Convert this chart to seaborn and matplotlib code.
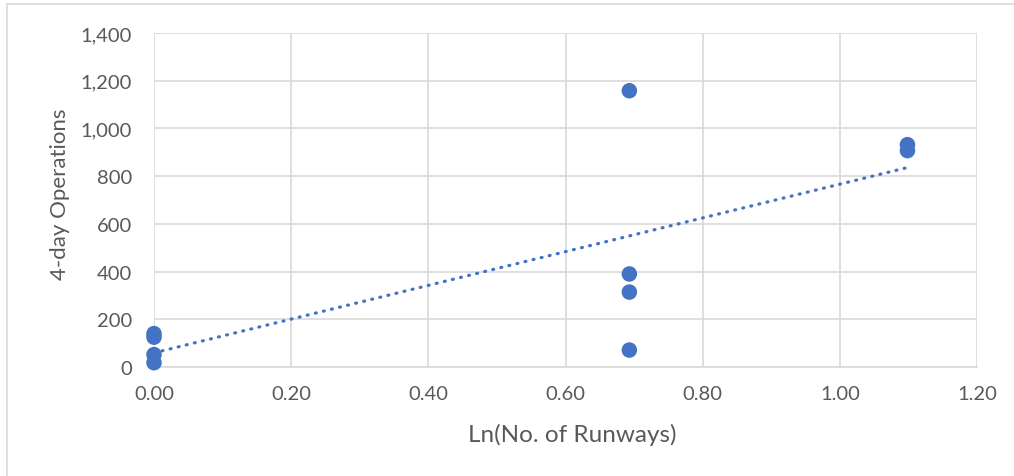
import numpy as np
import pandas as pd
import matplotlib
matplotlib.use("Agg")
import matplotlib.pyplot as plt
from matplotlib.lines import Line2D
from matplotlib.ticker import FuncFormatter
import seaborn as sns

# Runway counts (natural log) and 4-day operations per airport
ln_runways = [0.0, 0.0, 0.0, 0.0,
              0.6931, 0.6931, 0.6931, 0.6931,
              1.0986, 1.0986]
operations = [140, 125, 52, 18,
              1158, 390, 314, 71,
              932, 907]

x_ticks = [0.0, 0.2, 0.4, 0.6, 0.8, 1.0, 1.2]
y_ticks = [0, 200, 400, 600, 800, 1000, 1200, 1400]

df = pd.DataFrame({"ln_runways": ln_runways, "operations": operations})

sns.set_theme(style="white")
plt.rcParams["font.family"] = ["Lato", "DejaVu Sans"]

blue = "#4472C4"
grid_c = "#d9d9d9"
text_c = "#595959"

W, H = 1014, 477
fig = plt.figure(figsize=(W / 100, H / 100), dpi=100)
ax = fig.add_axes([154 / W, 1 - 368 / H, (977 - 154) / W, (368 - 34) / H])

sns.regplot(data=df, x="ln_runways", y="operations", ax=ax, scatter=False,
            ci=None, color=blue,
            line_kws=dict(linestyle=(0, (0.3, 2.3)), linewidth=2.3,
                          dash_capstyle="round", zorder=2))
sns.scatterplot(data=df, x="ln_runways", y="operations", ax=ax, s=125,
                color=blue, edgecolor="none", zorder=3, clip_on=False)

ax.set_xlim(0, 1.2)
ax.set_ylim(0, 1400)
ax.set_xticks(x_ticks)
ax.set_yticks(y_ticks)
ax.xaxis.set_major_formatter(FuncFormatter(lambda v, p: f"{v:.2f}"))
ax.yaxis.set_major_formatter(FuncFormatter(lambda v, p: f"{int(round(v)):,}"))

ax.grid(True, color=grid_c, linewidth=1.2)
ax.set_axisbelow(True)
for side in ["top", "right", "left"]:
    ax.spines[side].set_visible(False)
ax.spines["bottom"].set_color(grid_c)
ax.spines["bottom"].set_linewidth(1.2)

ax.tick_params(axis="both", length=0, labelsize=14.5, colors=text_c)
ax.tick_params(axis="x", pad=13)
ax.tick_params(axis="y", pad=16)

ax.set_xlabel("Ln(No. of Runways)", fontsize=17.5, color=text_c)
ax.set_ylabel("4-day Operations", fontsize=16, color=text_c)
ax.xaxis.set_label_coords((572 - 154) / (977 - 154), -(435 - 368) / (368 - 34))
ax.yaxis.set_label_coords(-(154 - 60) / (977 - 154), (368 - 194) / (368 - 34))
ax.xaxis.label.set_verticalalignment("center")
ax.yaxis.label.set_verticalalignment("center")

# chart-area border
fig.add_artist(Line2D([7 / W, 7 / W], [0, 1 - 5 / H],
                      transform=fig.transFigure, color=grid_c, linewidth=1.2))
fig.add_artist(Line2D([7 / W, 1], [1 - 5 / H, 1 - 5 / H],
                      transform=fig.transFigure, color=grid_c, linewidth=1.2))

fig.savefig("out.png", dpi=100)
